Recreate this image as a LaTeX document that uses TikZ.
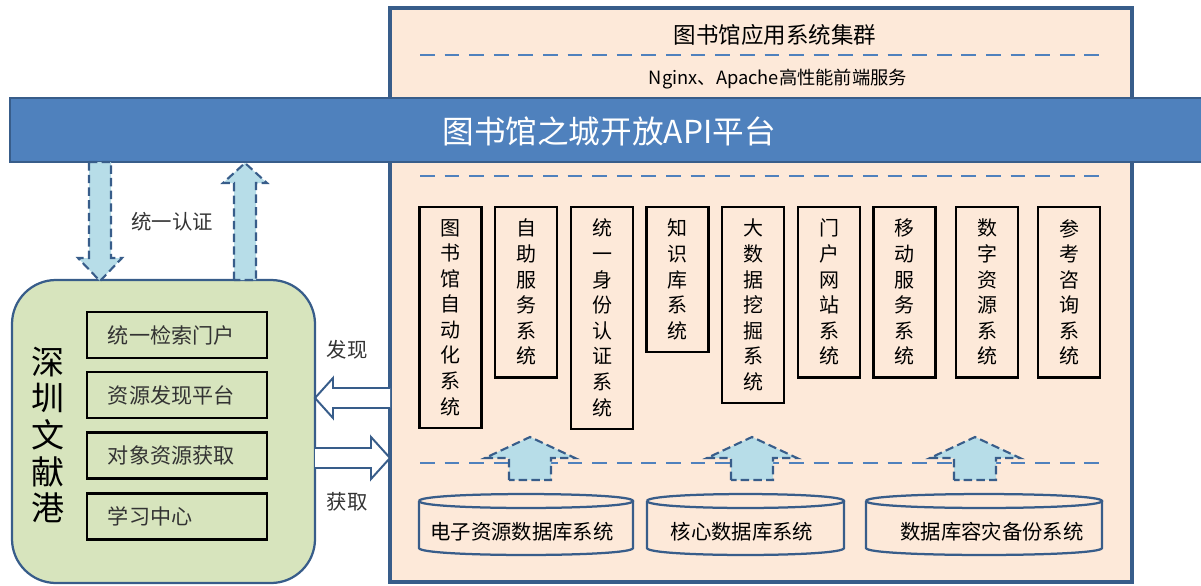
\documentclass[tikz,border=0pt]{standalone}
\usepackage{fontspec}
\setmainfont{Noto Sans CJK SC}
\usepackage{tikz}

\definecolor{peach}{RGB}{253,233,217}
\definecolor{frame}{RGB}{56,93,138}
\definecolor{apiblue}{RGB}{79,129,189}
\definecolor{hubgreen}{RGB}{215,228,189}
\definecolor{skyfill}{RGB}{183,221,232}

\begin{document}
\begin{tikzpicture}[
        x=0.025cm, y=-0.025cm,
        panel/.style={draw=frame,line width=2.5pt,fill=peach},
        bar/.style={draw=frame,line width=2pt,fill=apiblue},
        sep/.style={apiblue,line width=2pt,dash pattern=on 10.5pt off 7pt},
        sysbox/.style={draw,line width=1.6pt,minimum width=1.55cm,inner xsep=0pt,inner ysep=0.3cm,anchor=north,align=center,font=\fontsize{14.2}{18.2}\selectfont},
        portal/.style={draw,line width=1.6pt,text width=3.45cm,inner xsep=0.525cm,minimum height=1.15cm,align=left,text=black!80,font=\fontsize{15}{18}\selectfont},
        dbline/.style={draw=frame,line width=1.6pt},
        fatarrow/.style={draw=frame,line width=1.5pt,fill=skyfill,dash pattern=on 6pt off 3pt},
        flow/.style={draw=frame,line width=1.4pt,fill=white},
        tag/.style={text=black!80,font=\fontsize{14.5}{16}\selectfont}
    ]
        \useasboundingbox (0,0) rectangle (1201,585);

        % Application cluster
        \draw[panel] (390,8) rectangle (1132,582);
        \node (cluster) at (775,35) {\fontsize{16}{18}\selectfont 图书馆应用系统集群};
        \draw[sep] (420,55) -- (1100,55);
        \node (frontend) at (778,79) {\fontsize{13}{15}\selectfont Nginx、Apache高性能前端服务};

        % Left portal
        \draw[draw=frame,line width=1.6pt,fill=hubgreen,rounded corners=1.1cm] (12,280) rectangle (315,583);
        \node[align=center,font=\fontsize{23.5}{26}\selectfont] (hub) at (48,435) {深\\圳\\文\\献\\港};
        \node[portal] (search) at (177,335) {统一检索门户};
        \node[portal] (discover) at (177,395) {资源发现平台};
        \node[portal] (fetch) at (177,455.5) {对象资源获取};
        \node[portal] (learn) at (177,516.5) {学习中心};

        % API platform
        \draw[bar] (10,98) rectangle (1215,162);
        \node[text=white,font=\fontsize{22.5}{24}\selectfont] (api) at (609,131) {图书馆之城开放API平台};
        \draw[sep] (420,176) -- (1100,176);

        % Systems
        \node[sysbox] (sys1) at (450.5,206) {图\\书\\馆\\自\\动\\化\\系\\统};
        \node[sysbox] (sys2) at (526,206) {自\\助\\服\\务\\系\\统};
        \node[sysbox] (sys3) at (602,206) {统\\一\\身\\份\\认\\证\\系\\统};
        \node[sysbox] (sys4) at (677.5,206) {知\\识\\库\\系\\统};
        \node[sysbox] (sys5) at (753,206) {大\\数\\据\\挖\\掘\\系\\统};
        \node[sysbox] (sys6) at (829,206) {门\\户\\网\\站\\系\\统};
        \node[sysbox] (sys7) at (904.5,206) {移\\动\\服\\务\\系\\统};
        \node[sysbox] (sys8) at (987,206) {数\\字\\资\\源\\系\\统};
        \node[sysbox] (sys9) at (1069,206) {参\\考\\咨\\询\\系\\统};

        % Databases
        \draw[sep] (420,463) -- (1100,463);
        \foreach \a/\b in {419/633,647/844,866/1102} {
            \draw[dbline,fill=peach] (\a,501) -- (\a,548) .. controls (\a,557.3) and (\b,557.3) .. (\b,548) -- (\b,501);
            \draw[dbline] (\a,501) .. controls (\a,491.7) and (\b,491.7) .. (\b,501) .. controls (\b,510.3) and (\a,510.3) .. (\a,501);
        }
        \node[font=\fontsize{14.5}{16}\selectfont] (db1) at (522,532) {电子资源数据库系统};
        \node[font=\fontsize{14.5}{16}\selectfont] (db2) at (742,532) {核心数据库系统};
        \node[font=\fontsize{14.5}{16}\selectfont] (db3) at (992,532) {数据库容灾备份系统};
        \foreach \x in {530,752,975} {
            \draw[fatarrow] (\x-21,480) -- (\x-21,458) -- (\x-45,458) -- (\x,437) -- (\x+45,458) -- (\x+21,458) -- (\x+21,480) -- cycle;
        }

        % Authentication
        \draw[fatarrow] (89,162) -- (111,162) -- (111,258) -- (122,258) -- (100,281) -- (78,258) -- (89,258) -- cycle;
        \draw[fatarrow] (234,280) -- (234,183) -- (223,183) -- (245,163) -- (267,183) -- (256,183) -- (256,280) -- cycle;
        \node[tag] (auth) at (172,222) {统一认证};

        % Discover and fetch
        \draw[flow] (390,388) -- (333,388) -- (333,378) -- (315,398) -- (333,418) -- (333,408) -- (390,408);
        \draw[flow] (315,448) -- (371,448) -- (371,437) -- (390,458) -- (371,479) -- (371,468) -- (315,468);
        \node[tag] (found) at (347,350) {发现};
        \node[tag] (got) at (347,502) {获取};
    \end{tikzpicture}
\end{document}
